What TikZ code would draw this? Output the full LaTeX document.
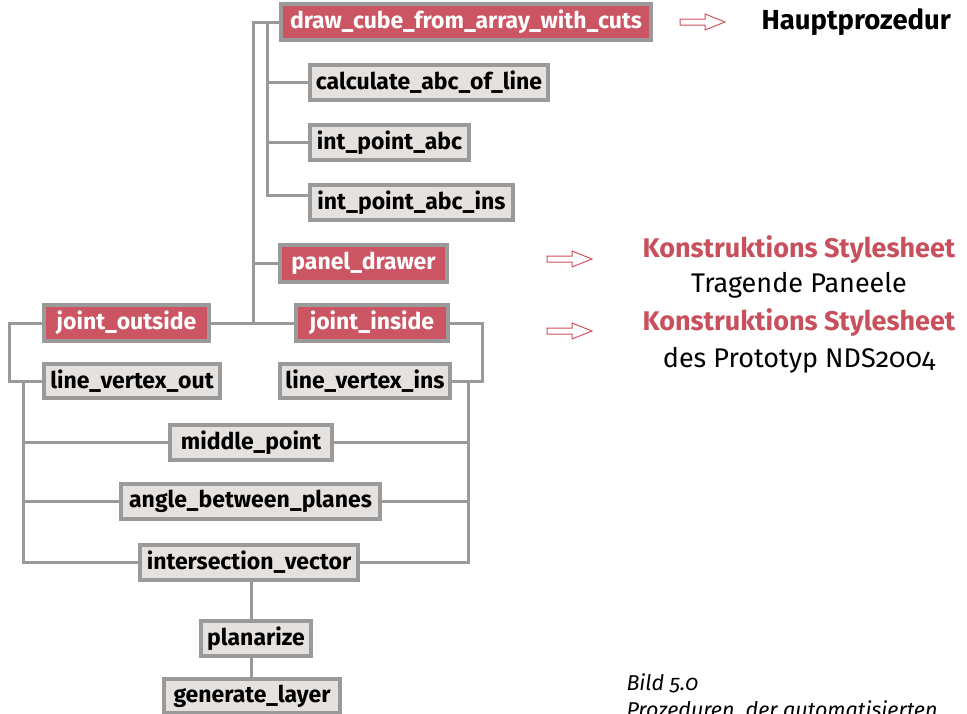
\documentclass[tikz,border=0pt]{standalone}
\usepackage{fontspec}
\setmainfont{Fira Sans}
\definecolor{boxred}{RGB}{203,85,98}
\definecolor{boxgray}{RGB}{228,225,223}
\definecolor{bordergray}{RGB}{154,154,154}
\definecolor{linegray}{RGB}{153,153,153}
\definecolor{arrowred}{RGB}{205,80,90}
\definecolor{labelred}{RGB}{200,80,92}
% hollow pointer arrow, given its tail point
\newcommand\hollowarrow[1]{%
  \draw[draw=arrowred, line width=1pt, line join=miter]
    #1 ++(0,-3) -- ++(25,0) -- ++(0,-5) -- ++(20,8) -- ++(-20,8)
    -- ++(0,-5) -- ++(-25,0) -- cycle;}
\begin{document}
\begin{tikzpicture}[x=1pt,y=-1pt,
  conn/.style={draw=linegray, line width=3pt},
  box/.style={draw=bordergray, line width=2.6pt, inner sep=0pt,
    minimum height=33pt, anchor=center,
    font=\fontsize{23}{24}\selectfont\bfseries},
  procbox/.style={box, fill=boxgray, text=black},
  mainbox/.style={box, fill=boxred, text=white},
  headlabel/.style={font=\fontsize{27}{29}\selectfont\bfseries, text=labelred},
  sublabel/.style={font=\fontsize{27}{29}\selectfont},
  caption/.style={font=\fontsize{21.5}{23}\selectfont\itshape\addfontfeatures{Numbers=OldStyle}, anchor=base west}]
\useasboundingbox (0,0) rectangle (967,713);

% procedure boxes
\node[mainbox, minimum width=368pt, minimum height=34pt] (cube) at (466,22) {draw\_cube\_from\_array\_with\_cuts};
\node[procbox, minimum width=236pt] (calc) at (429,82.5) {calculate\_abc\_of\_line};
\node[procbox, minimum width=157pt] (ipa) at (389.5,142.5) {int\_point\_abc};
\node[procbox, minimum width=201pt] (ipai) at (411.5,202.5) {int\_point\_abc\_ins};
\node[mainbox, minimum width=165pt, minimum height=35pt] (panel) at (363.5,263.5) {panel\_drawer};
\node[mainbox, minimum width=163pt, minimum height=34pt] (jout) at (126.5,323) {joint\_outside};
\node[mainbox, minimum width=150pt, minimum height=34pt] (jin) at (372,323) {joint\_inside};
\node[procbox, minimum width=174pt, minimum height=32pt] (lvo) at (132,381) {line\_vertex\_out};
\node[procbox, minimum width=168pt, minimum height=32pt] (lvi) at (365,381) {line\_vertex\_ins};
\node[procbox, minimum width=160pt] (mp) at (251,442.5) {middle\_point};
\node[procbox, minimum width=257pt] (abp) at (250.5,501.5) {angle\_between\_planes};
\node[procbox, minimum width=216pt] (iv) at (249,562.5) {intersection\_vector};
\node[procbox, minimum width=108pt] (pl) at (256,638.5) {planarize};
\node[procbox, minimum width=174pt, minimum height=32pt] (gl) at (252,696) {generate\_layer};

% junction points of the tree
\coordinate (t0) at (253,22);
\coordinate (t1) at (253,323);
\coordinate (b0) at (267,22);
\coordinate (b1) at (267,195);
\coordinate (lb) at (9,381);
\coordinate (rb) at (482,381);
\coordinate (lr0) at (23,381);
\coordinate (lr1) at (23,562.5);
\coordinate (rr0) at (468,381);
\coordinate (rr1) at (468,562.5);
\coordinate (spine) at (251,0);

% connectors
\draw[conn] (cube.west) -- (t0) -- (t1);
\draw[conn] (b0) -- (b1) -- (ipai.west |- b1);
\draw[conn] (calc.west -| b0) -- (calc.west);
\draw[conn] (ipa.west -| b0) -- (ipa.west);
\draw[conn] (panel.west -| t0) -- (panel.west);
\draw[conn] (jout.east) -- (jin.west);
\draw[conn] (jout.west) -| (lb) -- (lvo.west);
\draw[conn] (jin.east) -| (rb) -- (lvi.east);
\draw[conn] (lr0) -- (lr1) -- (iv.west);
\draw[conn] (rr0) -- (rr1) -- (iv.east);
\draw[conn] (mp.west -| lr0) -- (mp.west);
\draw[conn] (mp.east) -- (mp.east -| rr0);
\draw[conn] (abp.west -| lr0) -- (abp.west);
\draw[conn] (abp.east) -- (abp.east -| rr0);
\draw[conn] (iv.south -| spine) -- (pl.north -| spine);
\draw[conn] (pl.south -| spine) -- (gl.north -| spine);

% redraw box frames above the connector ends
\foreach \n in {cube,calc,ipa,ipai,panel,jout,jin,lvo,lvi,mp,abp,iv,pl,gl}{
  \draw[draw=bordergray, line width=2.6pt] (\n.south west) rectangle (\n.north east);}

% legend
\hollowarrow{(680,22)}
\node[anchor=base west, font=\fontsize{27.5}{29}\selectfont\bfseries] (hp) at (758,29) {Hauptprozedur};
\hollowarrow{(547,259)}
\node[headlabel, anchor=base] (ks1) at (799,257) {Konstruktions Stylesheet};
\node[sublabel, anchor=base] (tp) at (799,292) {Tragende Paneele};
\hollowarrow{(547,331)}
\node[headlabel, anchor=base] (ks2) at (799,330) {Konstruktions Stylesheet};
\node[sublabel, anchor=base] (np) at (799,367) {\addfontfeatures{Numbers=OldStyle}des Prototyp NDS2004};

% caption, its second line running past the lower edge
\node[caption] (cap1) at (623,690) {Bild 5.0};
\node[caption] (cap2) at (623,717) {Prozeduren\ \ der automatisierten};
\end{tikzpicture}
\end{document}
